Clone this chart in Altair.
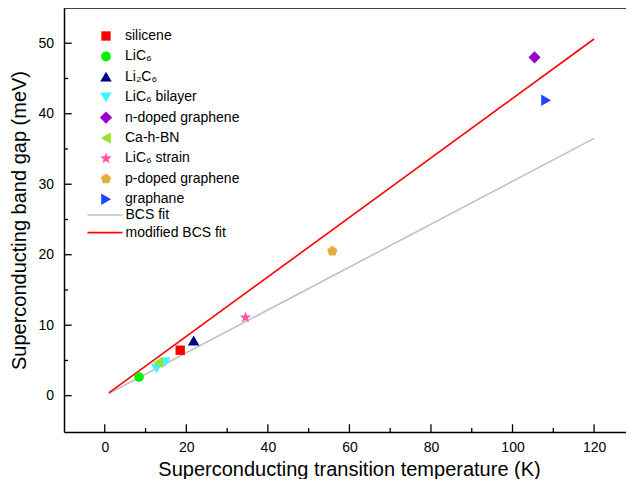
import altair as alt
import pandas as pd
import numpy as np

# ---- data ----
materials = ["silicene", "LiC₆", "Li₂C₆", "LiC₆ bilayer", "n-doped graphene",
             "Ca-h-BN", "LiC₆ strain", "p-doped graphene", "graphane"]
colors = ["#ff0000", "#00f000", "#000080", "#40f4ff", "#9900cc",
          "#9edf35", "#ff55a0", "#e6ae3c", "#2244ff"]

pt_material = ["silicene", "LiC₆", "Li₂C₆", "LiC₆ bilayer", "LiC₆ bilayer",
               "n-doped graphene", "Ca-h-BN", "LiC₆ strain", "p-doped graphene", "graphane"]
pt_tc = [18.5, 8.4, 21.8, 12.7, 14.7, 105.4, 13.1, 34.5, 55.8, 108.2]
pt_gap = [6.45, 2.64, 7.8, 3.9, 4.75, 48.0, 4.7, 11.1, 20.5, 41.9]

fit_names = ["BCS fit", "modified BCS fit"]
fit_colors = ["#c0c0c0", "#ff0000"]
fit_series = ["BCS fit", "BCS fit", "modified BCS fit", "modified BCS fit"]
fit_tc = [1, 120, 1, 120]
fit_gap = [0.3, 36.5, 0.4, 50.6]

x_major = [0, 20, 40, 60, 80, 100, 120]
x_minor = [10, 30, 50, 70, 90, 110]
y_major = [0, 10, 20, 30, 40, 50]
y_minor = [5, 15, 25, 35, 45]

# ---- symbol shapes (unit box paths) ----
def poly(n, r, start=-90.0):
    a = np.deg2rad(start + 360.0 / n * np.arange(n))
    pts = [f"{r*np.cos(t):.3f},{r*np.sin(t):.3f}" for t in a]
    return "M" + "L".join(pts) + "Z"

def star(R, ratio=0.42):
    a = np.deg2rad(-90.0 + 36.0 * np.arange(10))
    rr = [R if i % 2 == 0 else R * ratio for i in range(10)]
    pts = [f"{r*np.cos(t):.3f},{r*np.sin(t):.3f}" for r, t in zip(rr, a)]
    return "M" + "L".join(pts) + "Z"

shapes = [
    "M-0.78,-0.78H0.78V0.78H-0.78Z",
    "M-0.8,0A0.8,0.8 0 1,0 0.8,0A0.8,0.8 0 1,0 -0.8,0Z",
    "M0,-0.85L0.96,0.8L-0.96,0.8Z",
    "M0,0.85L0.96,-0.8L-0.96,-0.8Z",
    "M0,-1.02L1.02,0L0,1.02L-1.02,0Z",
    "M-0.85,0L0.8,-0.96L0.8,0.96Z",
    star(1.0),
    poly(5, 0.9),
    "M0.85,0L-0.8,-0.96L-0.8,0.96Z",
]

pts_df = pd.DataFrame({"material": pt_material, "T": pt_tc, "gap": pt_gap})
fit_df = pd.DataFrame({"fit": fit_series, "T": fit_tc, "gap": fit_gap})
xmaj_df = pd.DataFrame({"T": x_major})
xmin_df = pd.DataFrame({"T": x_minor})
ymaj_df = pd.DataFrame({"gap": y_major})
ymin_df = pd.DataFrame({"gap": y_minor})
frame_df = pd.DataFrame({"k": [0]})

W, H = 562, 424
FONT = "Liberation Sans"
xs = alt.Scale(domain=[-10, 127.83], nice=False, zero=False)
ys = alt.Scale(domain=[-5.15, 55], nice=False, zero=False)

x_axis = alt.Axis(values=x_major, format="d", title="Superconducting transition temperature (K)",
                  grid=False, ticks=False, domainColor="black", domainWidth=1.5,
                  labelFont=FONT, labelFontSize=14, labelColor="black", labelPadding=8,
                  titleFont=FONT, titleFontSize=20, titleFontWeight="normal", titleColor="black",
                  titleBaseline="alphabetic", titleY=43, titleX=285)
y_axis = alt.Axis(values=y_major, format="d", title="Superconducting band gap (meV)",
                  grid=False, ticks=False, domainColor="black", domainWidth=1.5,
                  labelFont=FONT, labelFontSize=14, labelColor="black", labelPadding=10.5,
                  titleFont=FONT, titleFontSize=20, titleFontWeight="normal", titleColor="black",
                  titlePadding=8.5)

lines = alt.Chart(fit_df).mark_line(strokeWidth=1.6).encode(
    x=alt.X("T:Q", scale=xs, axis=x_axis),
    y=alt.Y("gap:Q", scale=ys, axis=y_axis),
    color=alt.Color("fit:N", scale=alt.Scale(domain=fit_names, range=fit_colors),
                    legend=alt.Legend(title=None, orient="none", legendX=34, legendY=200,
                                      symbolType="M-3,0H3", symbolSize=136, symbolStrokeWidth=1.6,
                                      labelFont=FONT, labelFontSize=14, labelColor="black",
                                      labelOffset=13.5, rowPadding=3.6, padding=0, labelLimit=300)),
)

pt_legend = alt.Legend(title=None, orient="none", legendX=35, legendY=21,
                       symbolSize=144, symbolStrokeWidth=0,
                       labelFont=FONT, labelFontSize=14, labelColor="black",
                       labelOffset=12, rowPadding=6.4, padding=0, labelLimit=300)

points = alt.Chart(pts_df).mark_point(filled=True, size=144, opacity=1, strokeWidth=0).encode(
    x=alt.X("T:Q", scale=xs, axis=x_axis),
    y=alt.Y("gap:Q", scale=ys, axis=y_axis),
    color=alt.Color("material:N", scale=alt.Scale(domain=materials, range=colors), legend=pt_legend),
    shape=alt.Shape("material:N", scale=alt.Scale(domain=materials, range=shapes), legend=pt_legend),
)

frame_top = alt.Chart(frame_df).mark_rule(color="black", strokeWidth=1.5).encode(
    x=alt.value(0), x2=alt.value(W), y=alt.value(0))

tick_style = dict(color="black", strokeWidth=1.3)
xt_major = alt.Chart(xmaj_df).mark_rule(**tick_style).encode(
    x=alt.X("T:Q", scale=xs, axis=x_axis), y=alt.value(H), y2=alt.value(H - 7.7))
xt_minor = alt.Chart(xmin_df).mark_rule(**tick_style).encode(
    x=alt.X("T:Q", scale=xs, axis=x_axis), y=alt.value(H), y2=alt.value(H - 4))
yt_major = alt.Chart(ymaj_df).mark_rule(**tick_style).encode(
    y=alt.Y("gap:Q", scale=ys, axis=y_axis), x=alt.value(0), x2=alt.value(7.7))
yt_minor = alt.Chart(ymin_df).mark_rule(**tick_style).encode(
    y=alt.Y("gap:Q", scale=ys, axis=y_axis), x=alt.value(0), x2=alt.value(4))

chart = alt.layer(lines, points, frame_top, xt_major, xt_minor, yt_major, yt_minor).resolve_scale(
    color="independent", shape="independent"
).properties(
    width=W, height=H,
    autosize=alt.AutoSizeParams(type="none"),
    padding={"left": 56, "top": 0, "right": 0, "bottom": 47},
    background="white",
).configure_view(stroke=None)

chart.save("out.html", embed_options={"renderer": "svg", "actions": False})
